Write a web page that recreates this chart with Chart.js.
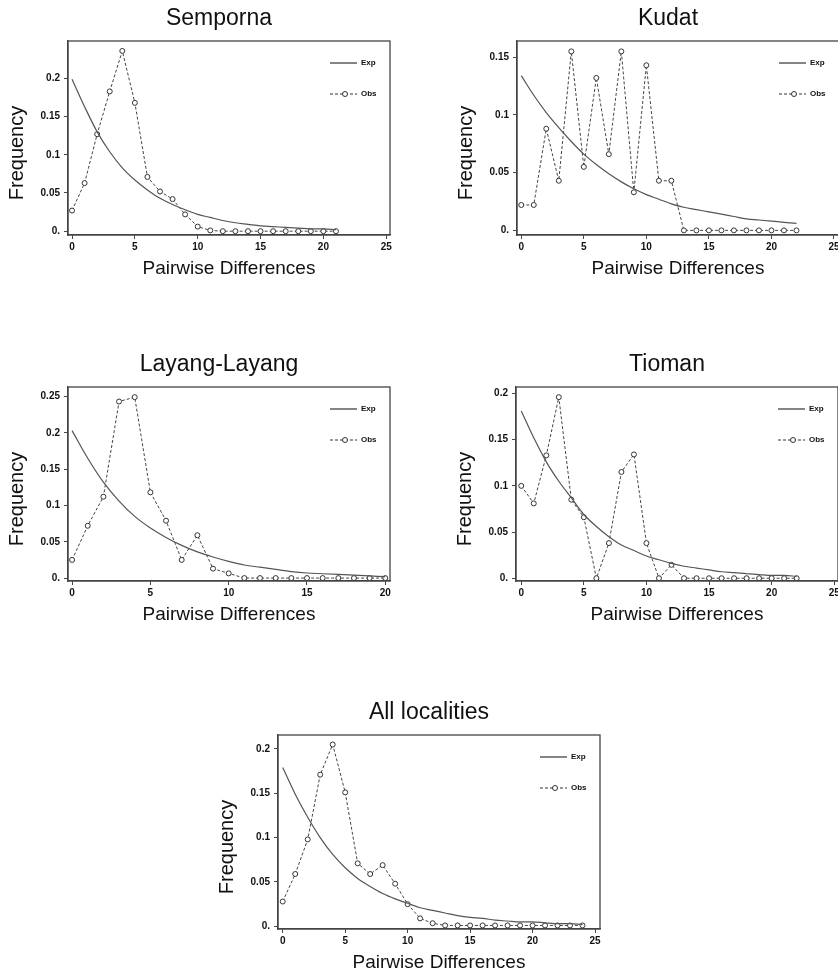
<!DOCTYPE html>
<html>
<head>
<meta charset="utf-8">
<script src="https://cdn.jsdelivr.net/npm/chart.js@4.4.1/dist/chart.umd.min.js"></script>
<style>
  html, body { margin: 0; padding: 0; background: #fff; }
  #page { position: relative; width: 838px; height: 976px; overflow: hidden; }
  #page canvas { position: absolute; }
</style>
</head>
<body>
<div id="page"></div>
<script>
// pairwise differences (x)
const diffs = [0, 1, 2, 3, 4, 5, 6, 7, 8, 9, 10, 11, 12, 13, 14, 15, 16, 17, 18, 19, 20, 21, 22, 23, 24];

const sempornaObs = [0.027, 0.063, 0.127, 0.183, 0.236, 0.168, 0.071, 0.052, 0.042, 0.022, 0.006, 0.001, 0, 0, 0, 0, 0, 0, 0, 0, 0, 0];
const sempornaExp = [0.199, 0.163, 0.130, 0.104, 0.083, 0.067, 0.054, 0.043, 0.035, 0.028, 0.022, 0.018, 0.014, 0.011, 0.009, 0.007, 0.006, 0.005, 0.004, 0.003, 0.003, 0.002];

const kudatObs = [0.022, 0.022, 0.088, 0.043, 0.155, 0.055, 0.132, 0.066, 0.155, 0.033, 0.143, 0.043, 0.043, 0, 0, 0, 0, 0, 0, 0, 0, 0, 0];
const kudatExp = [0.134, 0.117, 0.102, 0.089, 0.077, 0.066, 0.057, 0.049, 0.042, 0.036, 0.031, 0.027, 0.023, 0.020, 0.018, 0.016, 0.014, 0.012, 0.010, 0.009, 0.008, 0.007, 0.006];

const layangObs = [0.025, 0.072, 0.112, 0.243, 0.249, 0.118, 0.079, 0.025, 0.059, 0.013, 0.0065, 0, 0, 0, 0, 0, 0, 0, 0, 0, 0];
const layangExp = [0.203, 0.165, 0.132, 0.106, 0.085, 0.069, 0.056, 0.045, 0.036, 0.029, 0.023, 0.018, 0.015, 0.012, 0.009, 0.007, 0.006, 0.005, 0.004, 0.003, 0.002];

const tiomanObs = [0.100, 0.081, 0.133, 0.196, 0.085, 0.066, 0, 0.038, 0.115, 0.134, 0.038, 0, 0.0145, 0, 0, 0, 0, 0, 0, 0, 0, 0, 0];
const tiomanExp = [0.181, 0.152, 0.126, 0.105, 0.087, 0.069, 0.056, 0.045, 0.036, 0.030, 0.024, 0.020, 0.016, 0.013, 0.011, 0.009, 0.007, 0.006, 0.005, 0.004, 0.003, 0.003, 0.002];

const allObs = [0.028, 0.059, 0.098, 0.171, 0.205, 0.151, 0.071, 0.059, 0.069, 0.048, 0.025, 0.009, 0.0035, 0.001, 0.001, 0.001, 0.001, 0.001, 0.001, 0.001, 0.001, 0.001, 0.001, 0.001, 0.001];
const allExp = [0.179, 0.149, 0.123, 0.100, 0.081, 0.066, 0.054, 0.045, 0.037, 0.031, 0.026, 0.021, 0.018, 0.015, 0.012, 0.010, 0.009, 0.007, 0.006, 0.005, 0.005, 0.004, 0.003, 0.003, 0.002];

const panels = [
    { title: 'Semporna', obs: sempornaObs, exp: sempornaExp, left: 68, top: 41, xMin: -0.32, xMax: 25.3, yMin: -0.005, yMax: 0.249 },
    { title: 'Kudat', obs: kudatObs, exp: kudatExp, left: 517, top: 41, xMin: -0.34, xMax: 25.4, yMin: -0.004, yMax: 0.164 },
    { title: 'Layang-Layang', obs: layangObs, exp: layangExp, left: 68, top: 387, xMin: -0.26, xMax: 20.3, yMin: -0.004, yMax: 0.263 },
    { title: 'Tioman', obs: tiomanObs, exp: tiomanExp, left: 516, top: 387, xMin: -0.42, xMax: 25.3, yMin: -0.003, yMax: 0.207 },
    { title: 'All localities', obs: allObs, exp: allExp, left: 278, top: 735, xMin: -0.38, xMax: 25.4, yMin: -0.003, yMax: 0.2157 }
];

const AXIS_W = 68, AXIS_H = 50, PLOT_W = 322, PLOT_H = 194, PAD_R = 14, PAD_T = 41;
const ink = '#444';
const sans = '"Liberation Sans", Arial, sans-serif';

// frame, titles and the in-plot legend
const panelDecor = {
    id: 'panelDecor',
    afterDraw(chart, args, opts) {
        const { ctx, chartArea: a } = chart;
        const cx = (a.left + a.right) / 2;
        ctx.save();
        ctx.strokeStyle = ink;
        ctx.lineWidth = 1.3;
        ctx.strokeRect(a.left, a.top, a.right - a.left, a.bottom - a.top);

        ctx.fillStyle = '#111';
        ctx.textAlign = 'center';
        ctx.textBaseline = 'middle';
        ctx.font = '23px ' + sans;
        ctx.fillText(opts.title, cx - 10, a.top - 22);
        ctx.font = '19px ' + sans;
        ctx.fillText('Pairwise Differences', cx, a.bottom + 34);
        ctx.save();
        ctx.translate(a.left - 51, (a.top + a.bottom) / 2 + 15);
        ctx.rotate(-Math.PI / 2);
        ctx.font = '20px ' + sans;
        ctx.fillText('Frequency', 0, 0);
        ctx.restore();

        // legend
        const lx = a.left + 262, y1 = a.top + 22, y2 = a.top + 53;
        ctx.strokeStyle = '#333';
        ctx.lineWidth = 1.2;
        ctx.beginPath(); ctx.moveTo(lx, y1); ctx.lineTo(lx + 27, y1); ctx.stroke();
        ctx.setLineDash([3, 2]);
        ctx.lineWidth = 1;
        ctx.beginPath(); ctx.moveTo(lx, y2); ctx.lineTo(lx + 27, y2); ctx.stroke();
        ctx.setLineDash([]);
        ctx.beginPath(); ctx.arc(lx + 15, y2, 2.5, 0, Math.PI * 2);
        ctx.fillStyle = '#fff'; ctx.fill(); ctx.stroke();
        ctx.fillStyle = '#111';
        ctx.textAlign = 'left';
        ctx.font = 'bold 8px ' + sans;
        ctx.fillText('Exp', lx + 31, y1);
        ctx.fillText('Obs', lx + 31, y2);
        ctx.restore();
    }
};

const page = document.getElementById('page');

panels.forEach(p => {
    const canvas = document.createElement('canvas');
    canvas.width = AXIS_W + PLOT_W + PAD_R;
    canvas.height = PAD_T + PLOT_H + AXIS_H;
    canvas.style.left = (p.left - AXIS_W) + 'px';
    canvas.style.top = (p.top - PAD_T) + 'px';
    page.appendChild(canvas);

    new Chart(canvas, {
        type: 'line',
        data: {
            datasets: [
                {
                    label: 'Exp',
                    data: p.exp.map((v, i) => ({ x: diffs[i], y: v })),
                    borderColor: '#555',
                    borderWidth: 1.2,
                    pointRadius: 0,
                    cubicInterpolationMode: 'monotone',
                    fill: false
                },
                {
                    label: 'Obs',
                    data: p.obs.map((v, i) => ({ x: diffs[i], y: v })),
                    borderColor: '#444',
                    borderWidth: 1,
                    borderDash: [3, 2],
                    pointRadius: 2.5,
                    pointBorderWidth: 1,
                    pointBorderColor: '#333',
                    pointBackgroundColor: '#fff',
                    tension: 0,
                    fill: false
                }
            ]
        },
        options: {
            responsive: false,
            animation: false,
            devicePixelRatio: 1,
            layout: { padding: { top: PAD_T, right: PAD_R, left: 0, bottom: 0 } },
            plugins: {
                legend: { display: false },
                tooltip: { enabled: false },
                panelDecor: { title: p.title }
            },
            scales: {
                x: {
                    type: 'linear',
                    min: p.xMin,
                    max: p.xMax,
                    afterFit: s => { s.height = AXIS_H; },
                    border: { display: true, color: ink, width: 1.3 },
                    grid: { display: true, drawOnChartArea: false, tickLength: 4, color: ink },
                    ticks: {
                        stepSize: 5,
                        includeBounds: false,
                        maxRotation: 0,
                        padding: 2,
                        color: '#111',
                        font: { family: sans, size: 10, weight: 'bold' }
                    }
                },
                y: {
                    min: p.yMin,
                    max: p.yMax,
                    afterFit: s => { s.width = AXIS_W; },
                    border: { display: true, color: ink, width: 1.3 },
                    grid: { display: true, drawOnChartArea: false, tickLength: 4, color: ink },
                    ticks: {
                        stepSize: 0.05,
                        includeBounds: false,
                        padding: 4,
                        color: '#111',
                        font: { family: sans, size: 10, weight: 'bold' },
                        callback: v => (Math.abs(v) < 1e-9 ? '0.' : String(Math.round(v * 100) / 100))
                    }
                }
            }
        },
        plugins: [panelDecor]
    });
});
</script>
</body>
</html>
